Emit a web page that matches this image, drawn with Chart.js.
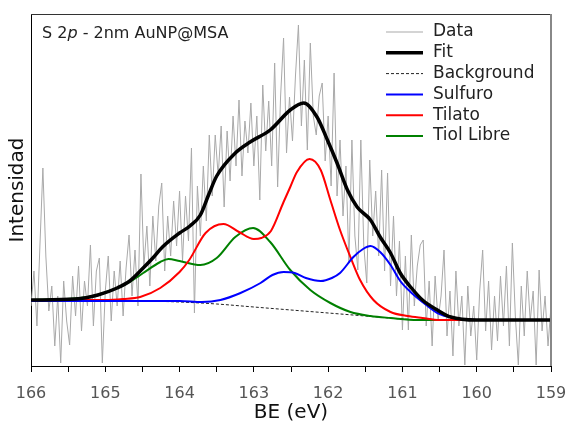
<!DOCTYPE html>
<html>
<head>
<meta charset="utf-8">
<script src="https://cdn.jsdelivr.net/npm/chart.js@4.4.0/dist/chart.umd.min.js"></script>
<style>
    html, body { margin: 0; padding: 0; background: #fff; }
</style>
</head>
<body>
<canvas id="xpsChart" width="567" height="427"></canvas>
<script>
// S 2p region, raw counts on a constant 0.04 eV step starting at 166 eV
const beStart = 166;
const beStep = 0.04;
const rawCounts = [
    60, 95, 40, 120, 198, 110, 55, 80, 20, 70, 3, 85, 45, 21, 90, 50,
    100, 35, 85, 60, 121, 40, 95, 108, 3, 75, 110, 45, 95, 60, 105, 50,
    98, 131, 70, 116, 60, 192, 100, 140, 80, 150, 105, 160, 183, 95, 150, 110,
    165, 120, 175, 105, 170, 125, 218, 53, 180, 130, 200, 145, 231, 170, 231, 190,
    240, 159, 235, 185, 250, 200, 266, 190, 245, 213, 263, 200, 250, 166, 281, 215,
    265, 200, 303, 179, 270, 328, 213, 269, 225, 290, 341, 240, 306, 216, 323, 250,
    231, 270, 283, 205, 250, 180, 293, 170, 226, 150, 200, 103, 226, 130, 96, 226,
    120, 83, 206, 130, 175, 110, 196, 95, 193, 80, 150, 70, 125, 36, 110, 36,
    131, 60, 100, 121, 126, 40, 85, 20, 90, 45, 70, 116, 30, 75, 10, 95,
    40, 70, 1, 80, 30, 60, 6, 75, 116, 35, 85, 16, 70, 25, 90, 40,
    100, 20, 123, 50, 1, 80, 30, 95, 45, 75, 1, 96, 35, 70, 20, 60
];

// fitted envelope
const fitBE = [166, 165.4, 165.1, 164.84, 164.67, 164.49, 164.36, 164.23, 164.0, 163.86,
    163.72, 163.61, 163.5, 163.25, 163.05, 162.78, 162.51, 162.33, 162.15, 162.01,
    161.88, 161.74, 161.61, 161.43, 161.3, 161.16, 161.03, 160.89, 160.73, 160.53,
    160.35, 160.0, 159];
const fitCounts = [66, 67, 71, 78, 85, 98, 108, 119, 133, 140,
    151, 171, 190, 213, 224, 236, 256, 263, 249, 226,
    203, 176, 159, 146, 129, 113, 93, 79, 66, 56,
    49, 46, 46];

// Shirley-type background
const bgBE = [166, 164.5, 164, 163.5, 163, 162.5, 162, 161.5, 161, 160.5, 159];
const bgCounts = [66, 65, 64, 62, 59, 56, 53, 50, 47, 46, 46];

// components (each sitting on the background)
const sulfuroBE = [166, 164.5, 164.0, 163.7, 163.45, 163.18, 162.91, 162.75, 162.6, 162.45,
    162.3, 162.1, 161.95, 161.84, 161.66, 161.53, 161.43, 161.3, 161.16, 161.03,
    160.89, 160.73, 160.53, 160.3, 160.0, 159];
const sulfuroCounts = [65, 65, 65, 64, 66, 73, 83, 91, 94, 93,
    88, 85, 88, 93, 109, 117, 120, 114, 101, 85,
    74, 64, 53, 48, 46, 46];

const tilatoBE = [166, 165.0, 164.76, 164.53, 164.26, 164.0, 163.87, 163.65, 163.41, 163.2,
    163.0, 162.9, 162.77, 162.6, 162.51, 162.42, 162.25, 162.1, 161.97, 161.84,
    161.7, 161.57, 161.39, 161.16, 160.93, 160.73, 160.5, 159];
const tilatoCounts = [66, 66, 67, 69, 78, 94, 106, 133, 142, 134,
    127, 128, 135, 164, 179, 194, 207, 196, 166, 136,
    109, 86, 66, 54, 50, 48, 46, 46];

const tiolBE = [166, 165.34, 165.11, 164.84, 164.67, 164.49, 164.26, 164.15, 164.0, 163.72,
    163.5, 163.25, 163.01, 162.78, 162.51, 162.24, 161.97, 161.7, 161.43, 161.16,
    160.8, 159];
const tiolCounts = [66, 68, 71, 78, 84, 93, 104, 107, 105, 101,
    108, 129, 138, 124, 96, 76, 63, 54, 50, 48,
    46, 46];

const tickFont = { family: 'DejaVu Sans', size: 16 };
const titleFont = { family: 'DejaVu Sans', size: 20 };

function toPoints(be, counts) {
    return counts.map((c, i) => ({ x: be[i], y: c }));
}

const rawPoints = rawCounts.map((c, i) => ({ x: +(beStart - i * beStep).toFixed(2), y: c }));

// legend and sample label drawn inside the plot frame
const frameAndLegend = {
    id: 'frameAndLegend',
    afterDatasetsDraw(chart) {
        const { ctx, chartArea: a } = chart;
        ctx.save();
        ctx.lineWidth = 1;
        ctx.strokeStyle = '#333';
        ctx.beginPath();
        ctx.moveTo(a.left, a.top + 0.5);
        ctx.lineTo(a.right, a.top + 0.5);
        ctx.stroke();
        ctx.lineWidth = 2;
        ctx.strokeStyle = '#888';
        ctx.beginPath();
        ctx.moveTo(a.right, a.top);
        ctx.lineTo(a.right, a.bottom);
        ctx.stroke();

        ctx.textBaseline = 'middle';
        ctx.fillStyle = '#222';
        let x = a.left + 11;
        const ty = 34;
        const parts = [['S 2', ''], ['p', 'italic '], [' - 2nm AuNP@MSA', '']];
        parts.forEach(([txt, style]) => {
            ctx.font = style + '16px "DejaVu Sans"';
            ctx.fillText(txt, x, ty);
            x += ctx.measureText(txt).width;
        });

        ctx.font = '17px "DejaVu Sans"';
        chart.data.datasets.forEach((ds, i) => {
            const y = 32 + i * 20.8;
            ctx.strokeStyle = ds.borderColor;
            ctx.lineWidth = ds.borderWidth;
            ctx.setLineDash(ds.borderDash || []);
            ctx.beginPath();
            ctx.moveTo(386, y);
            ctx.lineTo(423, y);
            ctx.stroke();
            ctx.setLineDash([]);
            ctx.fillStyle = '#222';
            ctx.fillText(ds.label, 433, y);
        });
        ctx.restore();
    }
};

new Chart(document.getElementById('xpsChart'), {
    type: 'line',
    data: {
        datasets: [
            { label: 'Data', data: rawPoints, borderColor: '#a9a9a9', borderWidth: 1, order: 10 },
            { label: 'Fit', data: toPoints(fitBE, fitCounts), borderColor: '#000', borderWidth: 3.5, cubicInterpolationMode: 'monotone', order: 1 },
            { label: 'Background', data: toPoints(bgBE, bgCounts), borderColor: '#222', borderWidth: 1, borderDash: [3, 2], cubicInterpolationMode: 'monotone', order: 5 },
            { label: 'Sulfuro', data: toPoints(sulfuroBE, sulfuroCounts), borderColor: '#0000ff', borderWidth: 2, cubicInterpolationMode: 'monotone', order: 2 },
            { label: 'Tilato', data: toPoints(tilatoBE, tilatoCounts), borderColor: '#ff0000', borderWidth: 2, cubicInterpolationMode: 'monotone', order: 3 },
            { label: 'Tiol Libre', data: toPoints(tiolBE, tiolCounts), borderColor: '#008000', borderWidth: 2, cubicInterpolationMode: 'monotone', order: 4 }
        ]
    },
    options: {
        responsive: false,
        animation: false,
        elements: { point: { radius: 0 } },
        layout: { padding: { top: 14, right: 16, left: 0, bottom: 0 } },
        plugins: { legend: { display: false }, tooltip: { enabled: false } },
        scales: {
            x: {
                type: 'linear',
                reverse: true,
                min: 159,
                max: 166,
                afterFit: s => { s.height = 61; s.paddingLeft = 0; s.paddingRight = 0; },
                border: { display: true, color: '#000', width: 1 },
                grid: { drawOnChartArea: false, drawTicks: true, tickLength: 6, color: '#000' },
                ticks: {
                    stepSize: 0.5,
                    autoSkip: false,
                    maxRotation: 0,
                    padding: 12,
                    color: '#555',
                    font: tickFont,
                    callback: v => (Number.isInteger(v) ? String(v) : '')
                },
                title: { display: true, text: 'BE (eV)', color: '#111', font: titleFont, padding: { top: 0, bottom: 2 } }
            },
            y: {
                min: 0,
                max: 352,
                afterFit: s => { s.width = 31; },
                border: { display: true, color: '#000', width: 1 },
                grid: { display: false },
                ticks: { display: false },
                title: { display: true, text: 'Intensidad', color: '#111', font: titleFont, padding: { top: 6, bottom: 0 } }
            }
        }
    },
    plugins: [frameAndLegend]
});
</script>
</body>
</html>
